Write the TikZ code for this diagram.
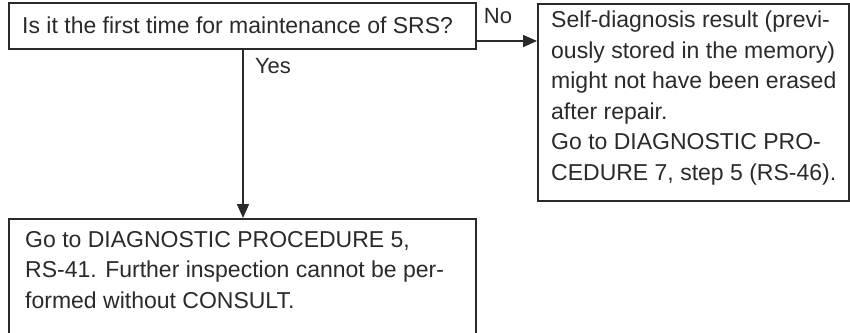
\documentclass[tikz,border=0pt]{standalone}
\usepackage{fontspec}
\setmainfont{Liberation Sans}
\usetikzlibrary{arrows.meta}
\definecolor{ink}{HTML}{2A2A2A}
\tikzset{
  boxline/.style={draw=ink, line width=1.5pt, inner sep=0pt},
  txt/.style={inner sep=0pt, align=left, anchor=base west, text=ink,
    font=\fontsize{23}{30.5}\selectfont},
  lbl/.style={inner sep=0pt, anchor=base, text=ink, font=\fontsize{22}{26}\selectfont},
  arr/.style={draw=ink, line width=1.5pt, -{Triangle[length=14pt,width=12pt]}}
}
\begin{document}
\begin{tikzpicture}[x=1pt,y=1pt]
\useasboundingbox (0,0) rectangle (850,-332);
\clip (0,0) rectangle (850,-332);
% boxes
\node[boxline, anchor=north west, minimum width=467pt, minimum height=46pt] (Q) at (8,-2) {};
\node[boxline, anchor=north west, minimum width=311pt, minimum height=197pt] (N) at (537,-3) {};
\node[boxline, anchor=north west, minimum width=467pt, minimum height=140pt] (Y) at (8,-218) {};
% texts (base anchor = baseline of last line)
\node[txt] (qt) at (22,-33) {Is it the first time for maintenance of SRS?};
\node[txt] (nt) at (551,-180) {Self-diagnosis result (previ-\\ously stored in the memory)\\might not have been erased\\after repair.\\Go to DIAGNOSTIC PRO-\\CEDURE 7, step 5 (RS-46).};
\node[txt] (yt) at (25,-308) {Go to DIAGNOSTIC PROCEDURE 5,\\RS-41. Further inspection cannot be per-\\formed without CONSULT.};
% connectors
\draw[arr] (Q.east |- 0,-41) -- (N.west |- 0,-41);
\draw[arr] (Q.south -| 243,0) -- (Y.north -| 243,0);
% labels
\node[lbl] (no) at (498,-23) {No};
\node[lbl] (yes) at (273,-73) {Yes};
\end{tikzpicture}
\end{document}
